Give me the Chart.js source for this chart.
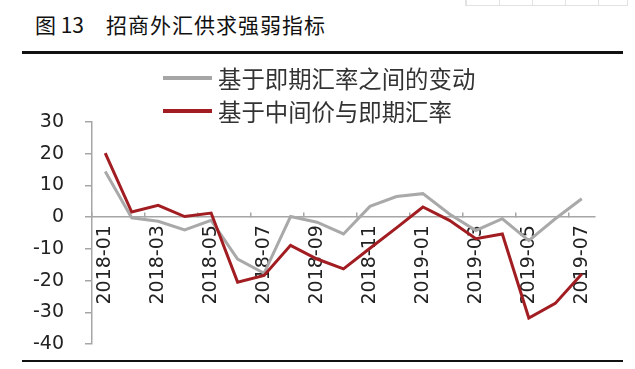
<!DOCTYPE html>
<html lang="zh">
<head>
  <meta charset="UTF-8">
  <title>招商外汇供求强弱指标</title>
  <script src="https://cdn.jsdelivr.net/npm/chart.js"></script>
  <style>
    body {
      margin: 0;
      background: #fff;
      font-family: 'Noto Sans CJK SC', sans-serif;
    }
    .page {
      position: relative;
      width: 635px;
      height: 369px;
      overflow: hidden;
    }
    .title {
      position: absolute;
      left: 35px;
      top: 9px;
      font-size: 21px;
      line-height: 30px;
      color: #111;
      white-space: nowrap;
    }
    .title .name {
      margin-left: 22px;
      letter-spacing: 1px;
    }
    .rule {
      position: absolute;
      left: 22px;
      width: 601px;
      background: #111;
    }
    .corner {
      position: absolute;
      left: 465px;
      top: -2px;
      width: 161px;
      height: 6px;
      border: 1px solid #e2e2e2;
      background: repeating-linear-gradient(90deg, #e2e2e2 0 1px, transparent 1px 33px);
    }
    .legend {
      position: absolute;
      left: 163px;
      z-index: 2;
    }
    .legend .item {
      position: absolute;
      left: 0;
      height: 28px;
      white-space: nowrap;
    }
    .legend .swatch {
      position: absolute;
      left: 0;
      top: 12px;
      width: 49px;
      height: 4px;
    }
    .legend .text {
      position: absolute;
      left: 55px;
      top: 0;
      font-size: 23.4px;
      line-height: 28px;
      color: #333;
    }
    canvas {
      position: absolute;
      left: 0;
      top: 0;
    }
  </style>
</head>
<body>
  <div class="page">
    <div class="corner"></div>
    <div class="title"><span>图 13</span><span class="name">招商外汇供求强弱指标</span></div>
    <div class="rule" style="top:51px;height:3px"></div>
    <div class="legend">
      <div class="item" style="top:64px"><div class="swatch" style="background:#a6a6a6"></div><div class="text">基于即期汇率之间的变动</div></div>
      <div class="item" style="top:97px"><div class="swatch" style="background:#a11d21"></div><div class="text">基于中间价与即期汇率</div></div>
    </div>
    <canvas id="chart" width="635" height="369"></canvas>
    <div class="rule" style="top:360px;height:2px"></div>
  </div>

  <script>
    const months = [
      '2018-01', '2018-02', '2018-03', '2018-04', '2018-05', '2018-06', '2018-07',
      '2018-08', '2018-09', '2018-10', '2018-11', '2018-12', '2019-01', '2019-02',
      '2019-03', '2019-04', '2019-05', '2019-06', '2019-07'
    ];
    const spotChange = [14.4, -0.2, -1.3, -4.0, -1.0, -13.2, -17.7, 0.2, -1.6, -5.3,
                        3.4, 6.5, 7.4, 1.0, -4.2, -0.5, -7.4, -0.5, 5.8];
    const midVsSpot = [20.2, 1.6, 3.7, 0.2, 1.3, -20.5, -18.4, -8.9, -13.2, -16.3,
                       -9.8, -3.4, 3.2, -1.0, -6.8, -5.3, -31.8, -27.2, -17.9];
    const seriesNames = ['基于即期汇率之间的变动', '基于中间价与即期汇率'];
    const yMin = -40;
    const yMax = 30;
    const yStep = 10;

    const axisGray = '#a6a6a6';

    new Chart(document.getElementById('chart'), {
      type: 'line',
      data: {
        labels: months,
        datasets: [
          {
            label: seriesNames[0],
            data: spotChange,
            borderColor: '#a9a9a9',
            borderWidth: 3,
            pointRadius: 0,
            tension: 0,
            order: 2
          },
          {
            label: seriesNames[1],
            data: midVsSpot,
            borderColor: '#a11d21',
            borderWidth: 3,
            pointRadius: 0,
            tension: 0,
            order: 1
          }
        ]
      },
      options: {
        responsive: false,
        animation: false,
        layout: { padding: { top: 122, right: 40, bottom: 25, left: 0 } },
        plugins: {
          legend: { display: false },
          tooltip: { enabled: false }
        },
        scales: {
          x: {
            type: 'category',
            offset: true,
            position: { y: 0 },
            border: { color: axisGray, width: 1.5 },
            grid: {
              offset: true,
              drawOnChartArea: false,
              tickLength: -5,
              lineWidth: 1.5,
              color: ctx => (ctx.index % 2 === 0 ? axisGray : 'rgba(0,0,0,0)')
            },
            ticks: {
              autoSkip: false,
              minRotation: 90,
              maxRotation: 90,
              padding: 13,
              color: '#222',
              font: { family: 'DejaVu Sans', size: 19 },
              callback: (v, i) => (i % 2 === 0 ? months[i] : '')
            },
            afterFit: s => { s.height = 0; }
          },
          y: {
            min: yMin,
            max: yMax,
            border: { color: axisGray, width: 1.5 },
            grid: {
              drawOnChartArea: false,
              tickLength: 7,
              lineWidth: 1.5,
              color: axisGray
            },
            ticks: {
              stepSize: yStep,
              padding: 21,
              color: '#222',
              font: { family: 'DejaVu Sans', size: 19 }
            },
            // big label padding would otherwise push the plot bottom up
            afterFit: s => {
              s.width = 92;
              s.paddingTop = 0;
              s.paddingBottom = 0;
            }
          }
        }
      }
    });
  </script>
</body>
</html>
